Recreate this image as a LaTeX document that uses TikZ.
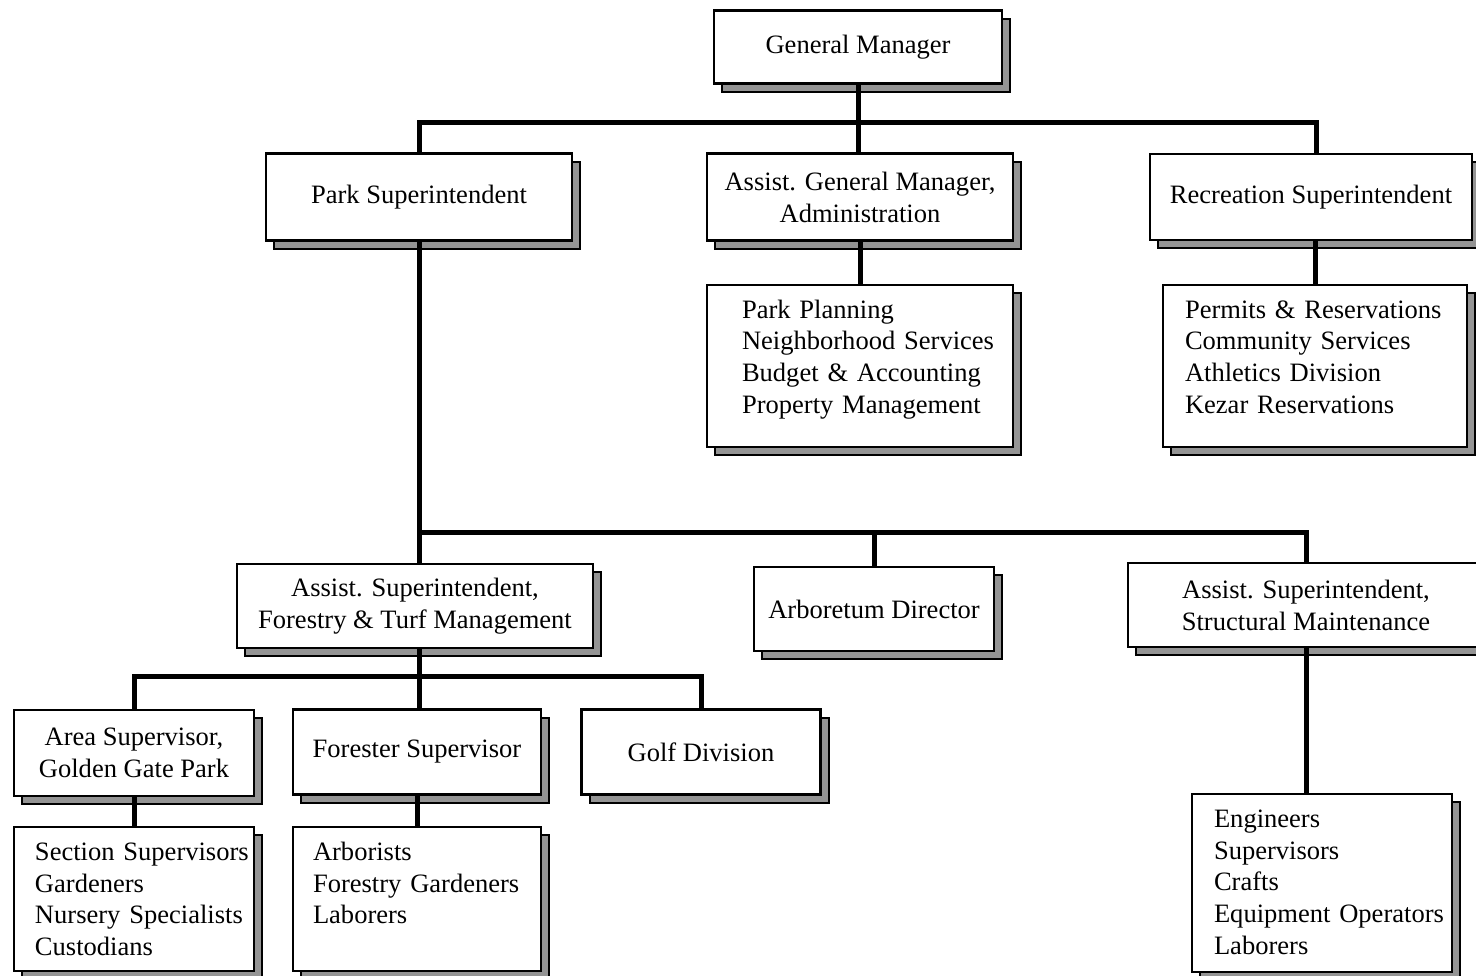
\documentclass[tikz,border=0pt]{standalone}
\usepackage{fontspec}
\setmainfont{Liberation Serif}
\usetikzlibrary{shadows}

\begin{document}
\begin{tikzpicture}[x=0.2mm, y=-0.2mm,
	orgbox/.style={draw, line width=0.5mm, fill=white, align=center, inner sep=0pt,
		font=\fontsize{15.1}{18.2}\selectfont,
		drop shadow={shadow xshift=1.6mm, shadow yshift=-1.6mm, fill=black!42, draw=black, line width=0.4mm, opacity=1}},
	listbox/.style={orgbox, align=left, inner ysep=0pt, text height=6.6mm},
	link/.style={line width=1mm}]
	\clip (0,0) rectangle (1476,975);
	% Components
	\node[orgbox, minimum width=57.6mm, minimum height=14.6mm] (gm) at (858,47) {General Manager};
	\node[orgbox, minimum width=61.2mm, minimum height=17.4mm] (parksup) at (419,197) {Park Superintendent};
	\node[orgbox, minimum width=61.2mm, minimum height=17.4mm] (agm) at (860,197) {Assist. General Manager,\\Administration};
	\node[orgbox, minimum width=64.4mm, minimum height=17.2mm] (recsup) at (1311,197) {Recreation Superintendent};
	\node[listbox, text width=47.2mm, inner xsep=7mm, text depth=25.8mm] (adminlist) at (860,366) {\begin{tabular}[t]{@{}l@{}}Park Planning\\Neighborhood Services\\Budget \& Accounting\\Property Management\end{tabular}};
	\node[listbox, text width=52mm, inner xsep=4.4mm, text depth=25.8mm] (reclist) at (1315,366) {\begin{tabular}[t]{@{}l@{}}Permits \& Reservations\\Community Services\\Athletics Division\\Kezar Reservations\end{tabular}};
	\node[orgbox, minimum width=71.2mm, minimum height=16.8mm] (forestry) at (415,606) {Assist. Superintendent,\\Forestry \& Turf Management};
	\node[orgbox, minimum width=48mm, minimum height=16.8mm] (arbor) at (874,609) {Arboretum Director};
	\node[orgbox, minimum width=71.2mm, minimum height=16.8mm] (structural) at (1306,605) {Assist. Superintendent,\\Structural Maintenance};
	\node[orgbox, minimum width=48mm, minimum height=17.2mm] (area) at (134,753) {Area Supervisor,\\Golden Gate Park};
	\node[orgbox, minimum width=49.6mm, minimum height=17mm] (forester) at (417,752) {Forester Supervisor};
	\node[orgbox, minimum width=47.8mm, minimum height=17mm] (golf) at (701,752) {Golf Division};
	\node[listbox, text width=39.6mm, inner xsep=4.2mm, text depth=22.2mm] (gardenlist) at (134,899) {\begin{tabular}[t]{@{}l@{}}Section Supervisors\\Gardeners\\Nursery Specialists\\Custodians\end{tabular}};
	\node[listbox, text width=41.6mm, inner xsep=4mm, text depth=22.2mm] (arborlist) at (417,899) {\begin{tabular}[t]{@{}l@{}}Arborists\\Forestry Gardeners\\Laborers\end{tabular}};
	\node[listbox, text width=43.2mm, inner xsep=4.4mm, text depth=29mm] (englist) at (1322,883) {\begin{tabular}[t]{@{}l@{}}Engineers\\Supervisors\\Crafts\\Equipment Operators\\Laborers\end{tabular}};
	
	% Connections
	\coordinate (topbus) at (858,122);
	\coordinate (midbus) at (419,532);
	\coordinate (lowbus) at (419,676);
	\draw[link] (gm) -- (topbus);
	\draw[link] (parksup.north) |- (topbus) -| ([xshift=1mm]recsup.north);
	\draw[link] (topbus) -- (topbus |- agm.north);
	\draw[link] (agm) -- (adminlist);
	\draw[link] (recsup.south -| reclist.north) -- (reclist.north);
	\draw[link] (parksup) -- (midbus);
	\draw[link] (midbus) -- (midbus |- forestry.north);
	\draw[link] (midbus) -| (structural.north);
	\draw[link] (arbor.north) -- (arbor.north |- midbus);
	\draw[link] (forestry.south -| lowbus) -- (lowbus);
	\draw[link] (area.north) |- (lowbus) -| (golf.north);
	\draw[link] (lowbus) -- (lowbus |- forester.north);
	\draw[link] (area) -- (gardenlist);
	\draw[link] (forester) -- (arborlist);
	\draw[link] (structural.south) -- (structural.south |- englist.north);
\end{tikzpicture}
\end{document}
